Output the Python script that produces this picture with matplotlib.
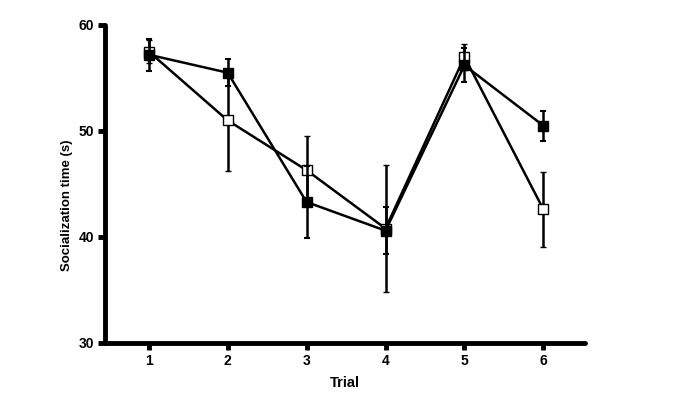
"""Socialization time by trial"""
import matplotlib
matplotlib.use('Agg')
from matplotlib import pyplot as plt

plt.rcParams['font.family'] = ['Liberation Sans', 'DejaVu Sans']
plt.rcParams['font.weight'] = 'bold'

# Data.
trials = [1, 2, 3, 4, 5, 6]
filled_mean = [57.2, 55.5, 43.3, 40.6, 56.2, 50.5]
filled_sem = [1.5, 1.3, 3.4, 2.2, 1.6, 1.4]
open_mean = [57.5, 51.0, 46.3, 40.8, 57.0, 42.6]
open_sem = [1.1, 4.8, 3.2, 6.0, 1.2, 3.5]

fig = plt.figure(dpi=100, figsize=(6.75, 4))
ax = fig.add_axes([0.156, 0.1425, 0.711, 0.795])

ax.errorbar(trials, open_mean, yerr=open_sem, color='black', lw=1.8,
            elinewidth=1.8, capsize=2.5, capthick=1.5, marker='s', ms=6.5,
            mfc='white', mec='black', mew=1.0, zorder=3)
ax.errorbar(trials, filled_mean, yerr=filled_sem, color='black', lw=1.8,
            elinewidth=1.8, capsize=2.5, capthick=1.5, marker='s', ms=6.5,
            mfc='black', mec='black', zorder=4)

# Format plot.
ax.set_xlim(0.45, 6.53)
ax.set_ylim(30, 60)
ax.set_xticks(trials)
ax.set_yticks([30, 40, 50, 60])
for side in ['top', 'right']:
    ax.spines[side].set_visible(False)
for side in ['left', 'bottom']:
    ax.spines[side].set_linewidth(3.5)
    ax.spines[side].set_capstyle('round')
ax.tick_params(axis='both', direction='out', length=5, width=3.5,
               labelsize=10, pad=3)
ax.set_xlabel('Trial', fontsize=10.5, fontweight='bold', labelpad=6)
ax.set_ylabel('Socialization time (s)', fontsize=9.5, fontweight='bold')
ax.yaxis.set_label_coords(-0.067, 0.434)

fig.savefig('out.png', dpi=100)
